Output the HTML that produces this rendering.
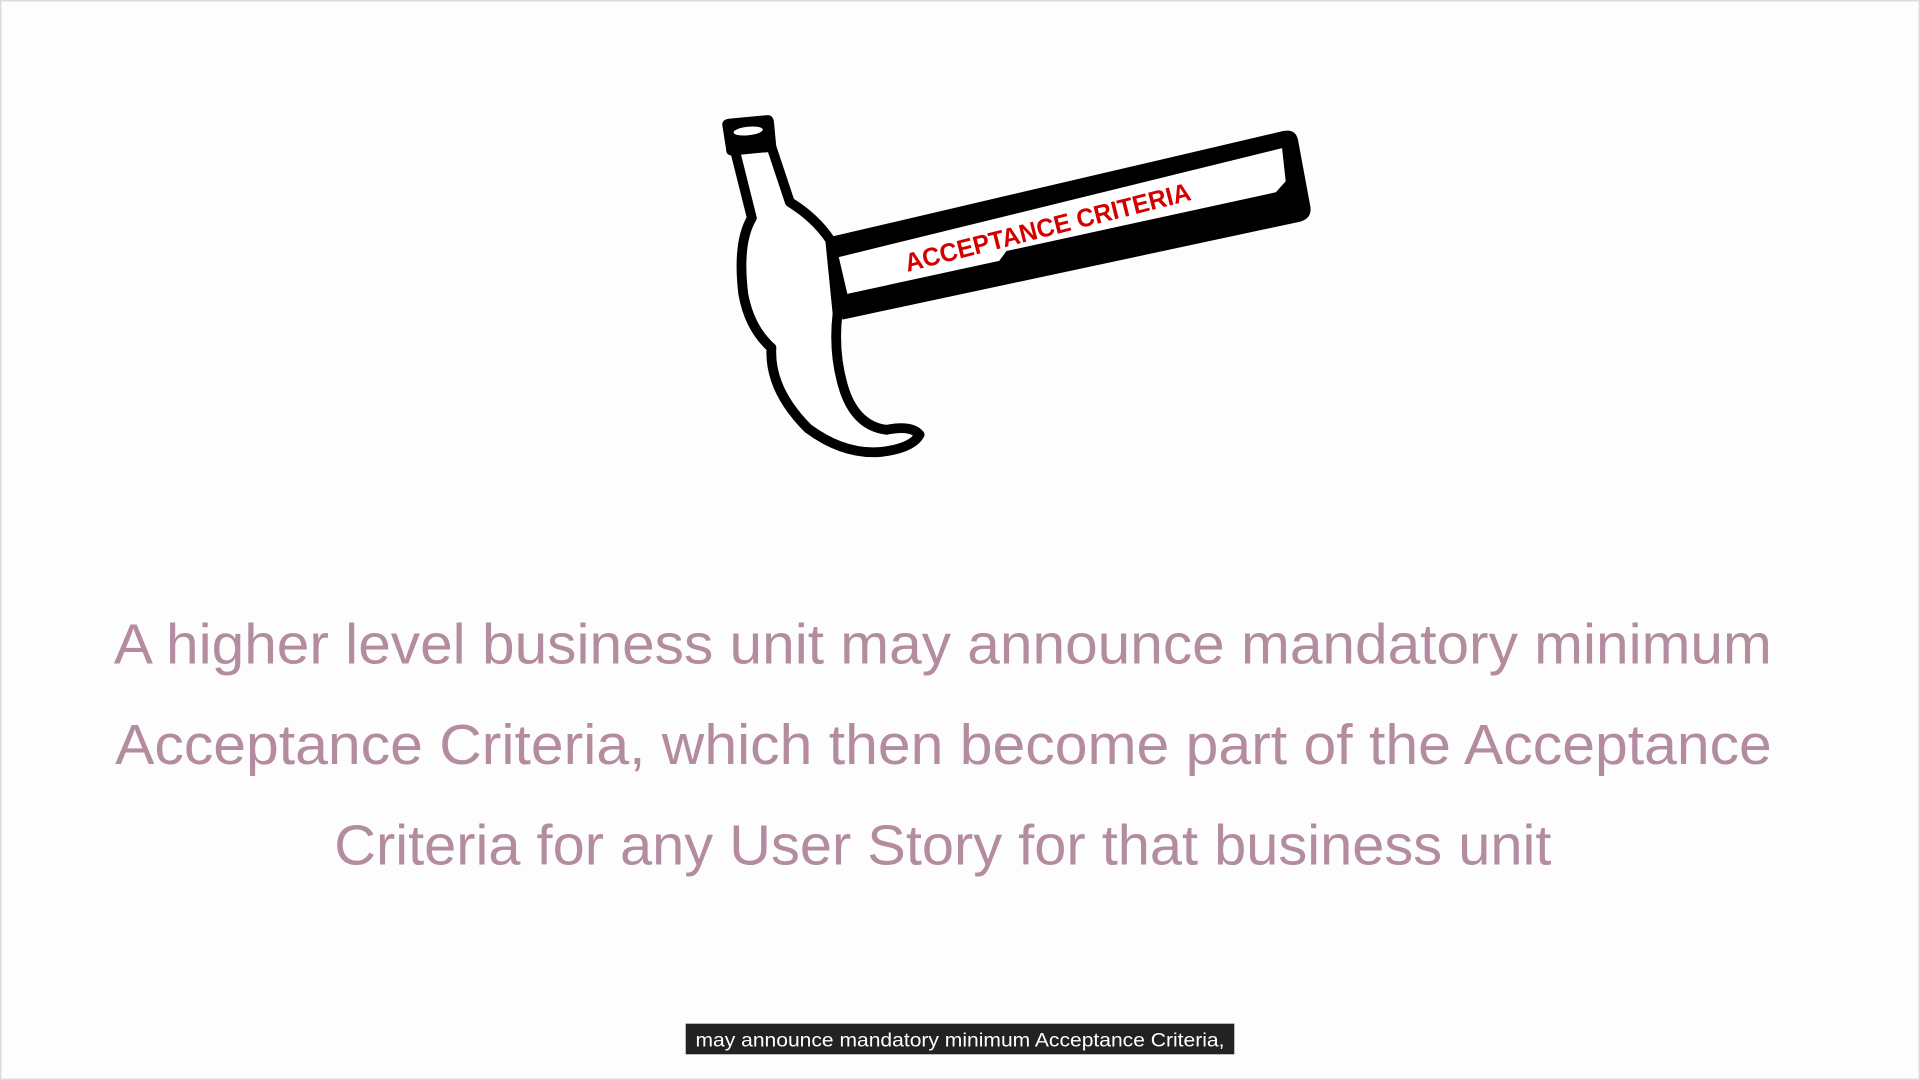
<!DOCTYPE html>
<html><head><meta charset="utf-8"><style>
html,body{margin:0;padding:0;background:#fff;width:1920px;height:1080px;overflow:hidden}
svg{display:block}
</style></head><body>
<svg width="1920" height="1080" viewBox="0 0 1568 882" xmlns="http://www.w3.org/2000/svg">
<rect x="0" y="0" width="1568" height="882" fill="#fefdfe"/>
<rect x="0.5" y="0.5" width="1567" height="881" fill="none" stroke="#dcdcdc" stroke-width="1.5"/>
<g>
  <path d="M676,194 L1048,107 Q1058,105 1060,114 L1070,168 Q1072,178 1062,181 L688,261 Z" fill="#000"/>
  <path d="M685,210 L1047,121 L1050,148 L1042,157 L822,205 L816,213 L692,240 Z" fill="#fff"/>
  <text x="0" y="0" transform="translate(741,222) rotate(-14.2)" font-family="Liberation Sans, sans-serif" font-weight="bold" font-size="21" fill="#d40000" textLength="240" lengthAdjust="spacingAndGlyphs">ACCEPTANCE CRITERIA</text>
  <path d="M600,122 L614,178 Q602,198 607,240 Q612,268 630,284 Q628,318 660,350 Q690,372 720,369 Q745,366 751,355 Q744,347 724,351 Q700,348 690,320 Q680,290 684,256 L678,196 Q666,178 645,165 L630,120 Z" fill="#fff" stroke="#000" stroke-width="8" stroke-linejoin="round"/>
  <path d="M590,103 Q589,98 595,97 L627,94 Q631,94 632,99 L634,120 Q634,124 629,124 L598,127 Q593,127 593,122 Z" fill="#000"/>
  <ellipse cx="611" cy="107" rx="12" ry="3.5" transform="rotate(-6 611 107)" fill="#fff"/>
</g>
<g font-family="Liberation Sans, sans-serif" font-size="46" fill="#b48c9f">
  <text x="93" y="542" textLength="1354" lengthAdjust="spacingAndGlyphs">A higher level business unit may announce mandatory minimum</text>
  <text x="94" y="624" textLength="1353" lengthAdjust="spacingAndGlyphs">Acceptance Criteria, which then become part of the Acceptance</text>
  <text x="273" y="706" textLength="994" lengthAdjust="spacingAndGlyphs">Criteria for any User Story for that business unit</text>
</g>
<g>
  <rect x="560" y="836" width="448" height="25" fill="#222"/>
  <text x="568" y="854.5" font-family="Liberation Sans, sans-serif" font-size="16" fill="#fff" textLength="432" lengthAdjust="spacingAndGlyphs">may announce mandatory minimum Acceptance Criteria,</text>
</g>
</svg>
</body></html>
